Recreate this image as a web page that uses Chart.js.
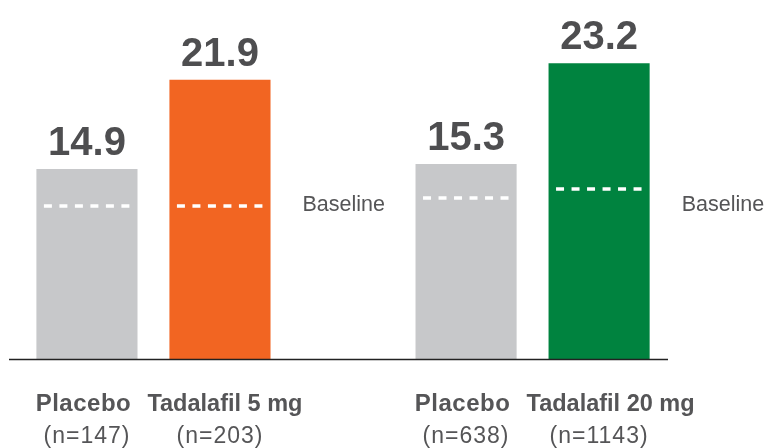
<!DOCTYPE html>
<html>
<head>
<meta charset="utf-8">
<script src="https://cdn.jsdelivr.net/npm/chart.js@4.4.1/dist/chart.umd.min.js"></script>
<style>
  html, body { margin: 0; padding: 0; background: #ffffff; }
  #wrap { width: 764px; height: 448px; }
</style>
</head>
<body>
<div id="wrap"><canvas id="chart" width="764" height="448"></canvas></div>
<script>
// Treatment arms, in drawing order
const armLabels = ['Placebo', 'Tadalafil 5 mg', 'Placebo', 'Tadalafil 20 mg'];
const sampleSizes = ['(n=147)', '(n=203)', '(n=638)', '(n=1143)'];
// Study each arm belongs to (0 = first study, 1 = second study)
const armStudy = [0, 0, 1, 1];
// Score at endpoint and at baseline for each arm
const endpointScores = [14.9, 21.9, 15.3, 23.2];
const baselineScores = [12.0, 12.0, 12.6, 13.3];
const baselineText = 'Baseline';

const armColors = ['#c7c8ca', '#f26522', '#c7c8ca', '#00833f'];
const textGray = '#555557';
const valueGray = '#4e4e50';
const FONT = '"Liberation Sans", Arial, sans-serif';

// Horizontal slot of each bar: arms sit one unit apart, studies are separated by a wider gap
const STUDY_SPAN = 2.85;
const slots = armStudy.map((s, i) => s * STUDY_SPAN + armStudy.slice(0, i).filter(v => v === s).length);

const annotate = {
  id: 'annotate',
  afterDatasetsDraw(chart) {
    const { ctx, chartArea, scales } = chart;
    const bars = chart.getDatasetMeta(0).data;
    const y = scales.y;
    ctx.save();

    // x axis line
    ctx.strokeStyle = '#222222';
    ctx.lineWidth = 1.5;
    ctx.beginPath();
    ctx.moveTo(chartArea.left, chartArea.bottom + 0.5);
    ctx.lineTo(chartArea.right, chartArea.bottom + 0.5);
    ctx.stroke();

    bars.forEach((bar, i) => {
      const left = bar.x - bar.width / 2;
      const right = bar.x + bar.width / 2;

      // dashed baseline marker inside the bar
      const by = Math.round(y.getPixelForValue(baselineScores[i]));
      ctx.save();
      ctx.strokeStyle = '#ffffff';
      ctx.lineWidth = 3.5;
      ctx.setLineDash([8, 7.5]);
      ctx.beginPath();
      ctx.moveTo(left + 7.5, by);
      ctx.lineTo(right - 5, by);
      ctx.stroke();
      ctx.restore();

      // value above the bar
      ctx.fillStyle = valueGray;
      ctx.font = 'bold 40px ' + FONT;
      ctx.textAlign = 'center';
      ctx.textBaseline = 'alphabetic';
      ctx.fillText(endpointScores[i].toFixed(1), bar.x, bar.y - 14);

      // arm name and sample size under the axis
      ctx.fillStyle = textGray;
      if (i % 2 === 0) {
        ctx.font = 'bold 24px ' + FONT;
        ctx.letterSpacing = '0.5px';
        ctx.textAlign = 'center';
        ctx.fillText(armLabels[i], bar.x - 3.5, 411);
      } else {
        ctx.font = 'bold 23.5px ' + FONT;
        ctx.letterSpacing = '0px';
        ctx.textAlign = 'left';
        ctx.fillText(armLabels[i], left - 22, 411);
      }
      ctx.font = '23px ' + FONT;
      ctx.letterSpacing = '1px';
      ctx.textAlign = 'center';
      ctx.fillText(sampleSizes[i], bar.x, 443);
      ctx.letterSpacing = '0px';

      // "Baseline" caption to the right of each study
      const last = i === armStudy.length - 1 || armStudy[i + 1] !== armStudy[i];
      if (last) {
        ctx.font = '21.5px ' + FONT;
        ctx.textAlign = 'left';
        ctx.textBaseline = 'middle';
        ctx.fillText(baselineText, right + 32, y.getPixelForValue(baselineScores[0]) - 1);
      }
    });
    ctx.restore();
  }
};

new Chart(document.getElementById('chart'), {
  type: 'bar',
  data: {
    datasets: [{
      data: endpointScores.map((v, i) => ({ x: slots[i], y: v })),
      backgroundColor: armColors,
      borderWidth: 0,
      categoryPercentage: 1,
      barPercentage: 0.76
    }]
  },
  options: {
    responsive: false,
    animation: false,
    devicePixelRatio: 1,
    layout: { padding: { top: 27.5, bottom: 89, left: 9, right: 96 } },
    plugins: { legend: { display: false }, tooltip: { enabled: false } },
    scales: {
      x: {
        type: 'linear',
        display: false,
        offset: false,
        grid: { offset: false },
        min: -0.586,
        max: 4.368,
        afterBuildTicks: s => { s.ticks = slots.map(v => ({ value: v })); }
      },
      y: { display: false, min: 0, max: 26 }
    }
  },
  plugins: [annotate]
});
</script>
</body>
</html>
